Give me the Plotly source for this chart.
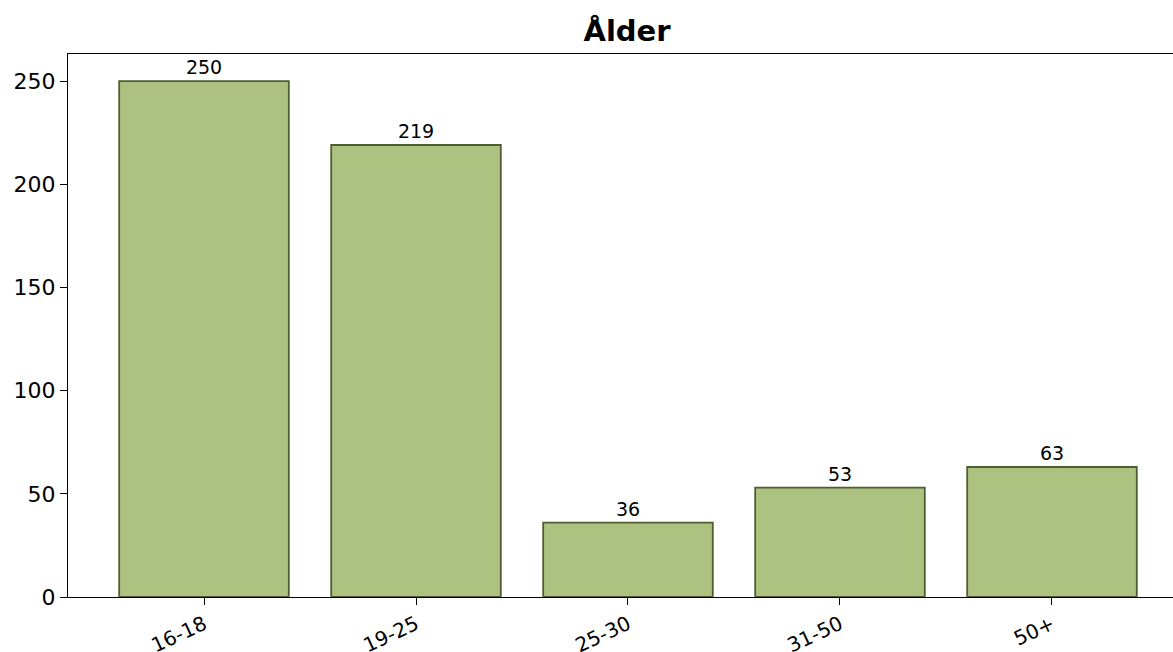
import plotly.graph_objects as go

categories = ["16-18", "19-25", "25-30", "31-50", "50+"]
values = [250, 219, 36, 53, 63]
title_text = "Ålder"

W, H = 1173, 652
L, R, T, B = 68, 0, 54, 55

fig = go.Figure()
fig.add_trace(go.Bar(
    x=list(range(len(categories))),
    y=values,
    width=0.8,
    marker=dict(color="#adc281", line=dict(color="#4f5e30", width=1.8)),
    text=[str(v) for v in values],
    textposition="outside",
    textfont=dict(family="DejaVu Sans", size=19, color="black"),
    cliponaxis=False,
))

fig.update_layout(
    width=W, height=H,
    margin=dict(l=L, r=R, t=T, b=B),
    plot_bgcolor="white", paper_bgcolor="white",
    showlegend=False,
    font=dict(family="DejaVu Sans", size=19, color="black"),
    title=dict(text="<b>" + title_text + "</b>", x=(627 - L) / (W - L - R), xref="paper", xanchor="center",
               y=1 - 31 / H, yref="container", yanchor="middle",
               font=dict(family="DejaVu Sans", size=29, color="black")),
    bargap=0.2,
)
fig.update_xaxes(
    range=[-0.6415, 4.5708],
    tickmode="array", tickvals=list(range(len(categories))), ticktext=categories,
    tickangle=-25,
    showline=True, linecolor="black", linewidth=1.3, mirror=True,
    ticks="outside", ticklen=7, tickcolor="black", tickwidth=1.3,
    showgrid=False, zeroline=False, automargin=False,
    tickfont=dict(family="DejaVu Sans", size=20, color="black"),
)
fig.update_yaxes(
    range=[0, 263.1],
    tickvals=[0, 50, 100, 150, 200, 250],
    showline=True, linecolor="black", linewidth=1.3,
    ticks="outside", ticklen=7, tickcolor="black", tickwidth=1.3,
    showgrid=False, zeroline=False, automargin=False,
    tickfont=dict(family="DejaVu Sans", size=22, color="black"),
)

fig.write_html(
    "out.html",
    config={"displayModeBar": False},
    post_script="document.body.style.margin='0';document.body.style.overflow='hidden';",
)
